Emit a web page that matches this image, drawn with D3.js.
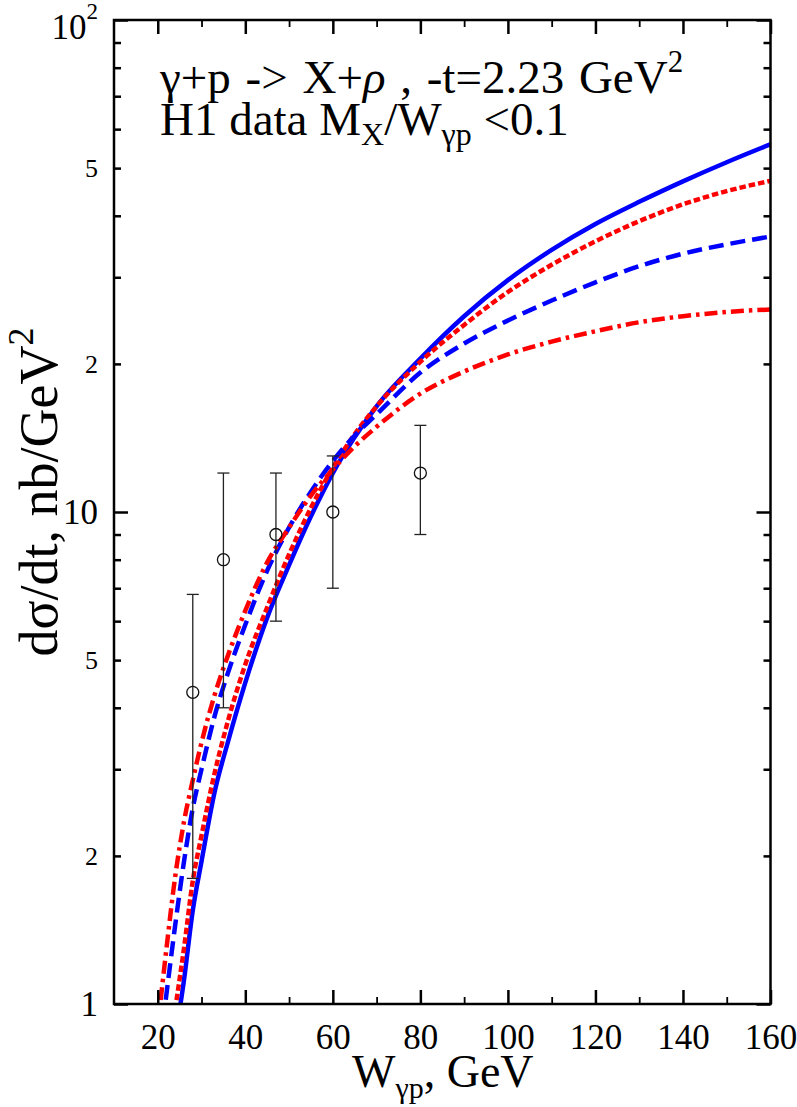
<!DOCTYPE html>
<html>
<head>
<meta charset="utf-8">
<script src="https://cdn.jsdelivr.net/npm/d3@7"></script>
<style>
  body { margin: 0; background: #fff; }
  svg { display: block; font-family: "Liberation Serif", "DejaVu Serif", serif; }
</style>
</head>
<body>
<script>
// W grid (GeV) shared by the four model curves
const wGrid = [20, 22, 24, 26, 28, 30, 33, 36, 40, 45, 50, 55, 60, 65, 70, 80, 90, 100, 110, 120, 130, 140, 150, 160];
// dsigma/dt values, nb/GeV^2
const solidBlue  = [0.45, 0.62, 0.85, 1.12, 1.55, 1.95, 2.7, 3.4, 4.5, 6.1, 7.8, 9.8, 12.0, 14.2, 16.4, 20.5, 25.0, 29.6, 34.1, 38.5, 42.7, 47.0, 51.4, 55.9];
const dottedRed  = [0.55, 0.75, 0.98, 1.3, 1.78, 2.2, 2.95, 3.75, 4.9, 6.4, 8.2, 10.2, 12.3, 14.4, 16.4, 20.2, 24.0, 28.0, 31.8, 35.5, 39.0, 42.2, 44.9, 47.1];
const dashedBlue = [0.75, 1.05, 1.45, 1.95, 2.5, 3.0, 3.85, 4.7, 5.9, 7.6, 9.3, 11.0, 12.7, 14.3, 15.8, 19.2, 22.0, 24.5, 26.9, 29.3, 31.6, 33.5, 35.0, 36.3];
const dashDotRed = [0.9, 1.3, 1.82, 2.35, 2.85, 3.4, 4.25, 5.1, 6.3, 7.9, 9.3, 10.8, 12.2, 13.6, 14.9, 17.4, 19.3, 20.9, 22.2, 23.3, 24.3, 25.0, 25.5, 25.8];

// H1 data points
const dataW   = [28, 35, 47, 60, 80];
const dataVal = [4.3, 8, 9, 10, 12];
const dataLo  = [1.8, 4, 6, 7, 9];
const dataHi  = [6.8, 12, 12, 13, 15];

// ticks
const xMajor = [20, 40, 60, 80, 100, 120, 140, 160];
const xMinor = [30, 50, 70, 90, 110, 130, 150];
const yMajor = [1, 10, 100];
const yMinor = [2, 3, 4, 5, 6, 7, 8, 9, 20, 30, 40, 50, 60, 70, 80, 90];
const yMinorLabelled = [2, 5, 20, 50];

const width = 797, height = 1107;
const pLeft = 114, pRight = 770.5, pTop = 20, pBottom = 1004;

const svg = d3.select('body').append('svg')
    .attr('width', width)
    .attr('height', height);

const x = d3.scaleLinear().domain([10, 160]).range([pLeft, pRight]);
const y = d3.scaleLog().domain([1, 100]).range([pBottom, pTop]);

svg.append('clipPath').attr('id', 'plot-clip')
    .append('rect')
    .attr('x', pLeft).attr('y', pTop)
    .attr('width', pRight - pLeft).attr('height', pBottom - pTop);

// curves
const series = [
    { vals: solidBlue,  color: '#0000ff', dash: null },
    { vals: dottedRed,  color: '#ff0000', dash: '6.5,3' },
    { vals: dashedBlue, color: '#0000ff', dash: '15,7' },
    { vals: dashDotRed, color: '#ff0000', dash: '13,5,3.5,5' }
];

const line = d3.line()
    .x(d => x(d[0]))
    .y(d => y(d[1]))
    .curve(d3.curveMonotoneX);

const curves = svg.append('g').attr('clip-path', 'url(#plot-clip)');
series.forEach(s => {
    curves.append('path')
        .datum(wGrid.map((w, i) => [w, s.vals[i]]))
        .attr('d', line)
        .attr('fill', 'none')
        .attr('stroke', s.color)
        .attr('stroke-width', 4.5)
        .attr('stroke-dasharray', s.dash);
});

// data with error bars
const pts = svg.append('g');
dataW.forEach((w, i) => {
    const cx = x(w);
    pts.append('line')
        .attr('x1', cx).attr('x2', cx)
        .attr('y1', y(dataLo[i])).attr('y2', y(dataHi[i]))
        .attr('stroke', '#222').attr('stroke-width', 1.3);
    [dataLo[i], dataHi[i]].forEach(v => {
        pts.append('line')
            .attr('x1', cx - 6).attr('x2', cx + 6)
            .attr('y1', y(v)).attr('y2', y(v))
            .attr('stroke', '#222').attr('stroke-width', 1.3);
    });
    pts.append('circle')
        .attr('cx', cx).attr('cy', y(dataVal[i]))
        .attr('r', 6)
        .attr('fill', 'none')
        .attr('stroke', '#111')
        .attr('stroke-width', 1.3);
});

// axes (ticks inward on all four sides)
function styleAxis(g, w) {
    g.select('.domain').remove();
    g.selectAll('.tick line').attr('stroke', '#000').attr('stroke-width', w);
    g.selectAll('text').attr('fill', '#000').style('font-family', '"Liberation Serif", serif');
}

const xb = svg.append('g').attr('transform', `translate(0,${pBottom})`)
    .call(d3.axisBottom(x).tickValues(xMajor).tickSize(-14).tickPadding(20).tickFormat(d3.format('d')))
    .call(g => styleAxis(g, 2.5));
xb.selectAll('text').style('font-size', '35px');

svg.append('g').attr('transform', `translate(0,${pBottom})`)
    .call(d3.axisBottom(x).tickValues(xMinor).tickSize(-7).tickFormat(''))
    .call(g => styleAxis(g, 1.8));

svg.append('g').attr('transform', `translate(0,${pTop})`)
    .call(d3.axisTop(x).tickValues(xMajor).tickSize(-14).tickFormat(''))
    .call(g => styleAxis(g, 2.5));
svg.append('g').attr('transform', `translate(0,${pTop})`)
    .call(d3.axisTop(x).tickValues(xMinor).tickSize(-7).tickFormat(''))
    .call(g => styleAxis(g, 1.8));

const yl = svg.append('g').attr('transform', `translate(${pLeft},0)`)
    .call(d3.axisLeft(y).tickValues(yMajor).tickSize(-14).tickPadding(16).tickFormat(d => d === 100 ? '' : d3.format('d')(d)))
    .call(g => styleAxis(g, 2.5));
yl.selectAll('text').style('font-size', '35px');
const topLabel = yl.selectAll('.tick').filter(d => d === 100).select('text')
    .attr('dy', '0.52em');
topLabel.append('tspan').text('10');
topLabel.append('tspan').text('2').style('font-size', '23px').attr('dy', -20);

const ylm = svg.append('g').attr('transform', `translate(${pLeft},0)`)
    .call(d3.axisLeft(y).tickValues(yMinor).tickSize(-7).tickPadding(16)
        .tickFormat(d => yMinorLabelled.includes(d) ? String(d).charAt(0) : ''))
    .call(g => styleAxis(g, 2.5));
ylm.selectAll('text').style('font-size', '26px');

svg.append('g').attr('transform', `translate(${pRight},0)`)
    .call(d3.axisRight(y).tickValues(yMajor).tickSize(-14).tickFormat(''))
    .call(g => styleAxis(g, 2.5));
svg.append('g').attr('transform', `translate(${pRight},0)`)
    .call(d3.axisRight(y).tickValues(yMinor).tickSize(-7).tickFormat(''))
    .call(g => styleAxis(g, 2.5));

// frame
svg.append('rect')
    .attr('x', pLeft).attr('y', pTop)
    .attr('width', pRight - pLeft).attr('height', pBottom - pTop)
    .attr('fill', 'none')
    .attr('stroke', '#000')
    .attr('stroke-width', 2.5);

// annotation
const t1 = svg.append('text').attr('x', 160).attr('y', 93)
    .style('font-size', '47px').style('word-spacing', '3px');
t1.append('tspan').text('γ+p -> X+');
t1.append('tspan').text('ρ').style('font-style', 'italic');
t1.append('tspan').text(' , -t=2.23 GeV');
t1.append('tspan').text('2').style('font-size', '31px').attr('dy', -21);

const t2 = svg.append('text').attr('x', 160).attr('y', 135).style('font-size', '47px');
t2.append('tspan').text('H1 data M');
t2.append('tspan').text('X').style('font-size', '32px').attr('dy', 10);
t2.append('tspan').text('/W').attr('dy', -10);
t2.append('tspan').text('γp').style('font-size', '32px').attr('dy', 10);
t2.append('tspan').text(' <0.1').attr('dy', -10);

// axis titles
const xt = svg.append('text').attr('x', 352).attr('y', 1087).style('font-size', '46px');
xt.append('tspan').text('W');
xt.append('tspan').text('γp').style('font-size', '30px').attr('dy', 11);
xt.append('tspan').text(', GeV').attr('dy', -11);

const yt = svg.append('text')
    .attr('transform', 'translate(57,492) rotate(-90)')
    .attr('text-anchor', 'middle')
    .style('font-size', '54px');
yt.append('tspan').text('dσ/dt, nb/GeV');
yt.append('tspan').text('2').style('font-size', '36px').attr('dy', -24);
</script>
</body>
</html>
